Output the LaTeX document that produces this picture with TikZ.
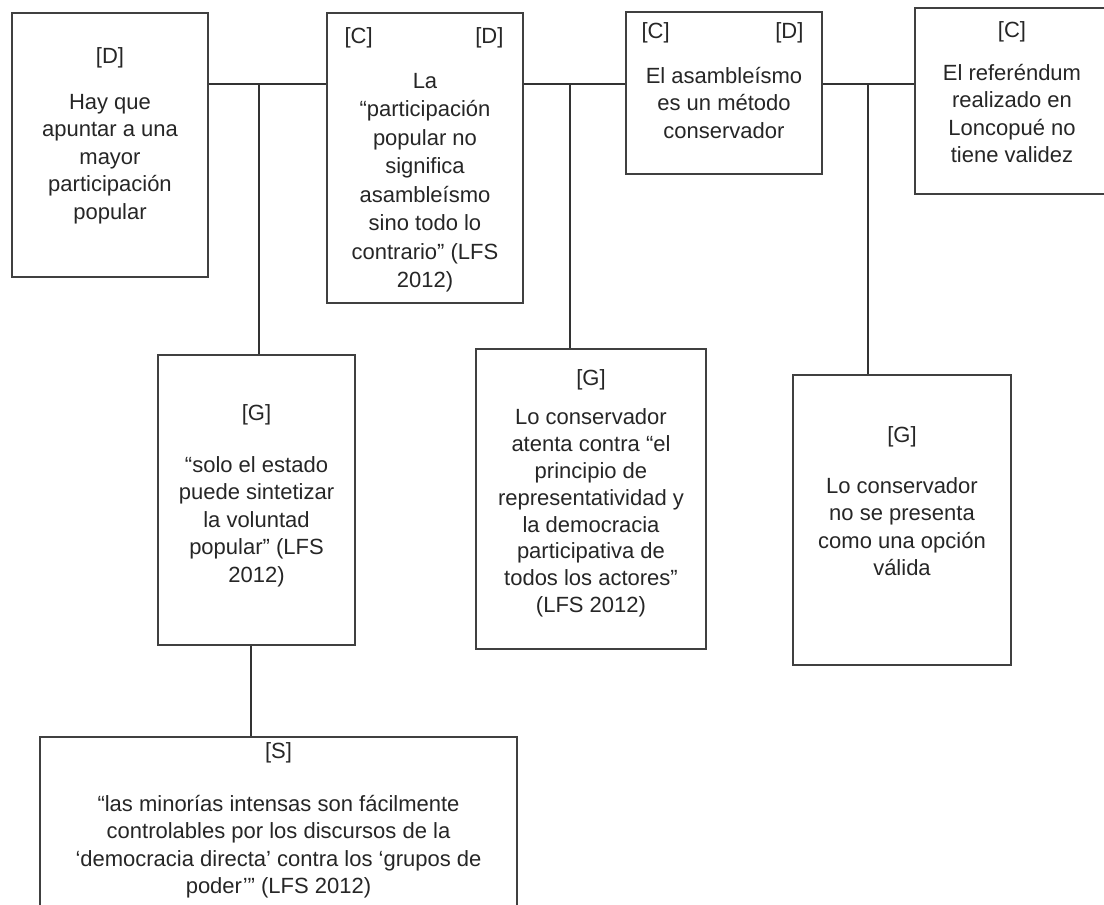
\documentclass[tikz,border=0pt]{standalone}
\usepackage{fontspec}
\setmainfont{Liberation Sans}
\usetikzlibrary{positioning}

\tikzset{
  box/.style={draw=black!75, line width=1.3pt, inner sep=0pt},
  tag/.style={inner sep=0pt, text height=16pt, text depth=5pt},
  body/.style={inner sep=0pt, align=center},
  link/.style={draw=black!80, line width=1.3pt},
}

\begin{document}
\begin{tikzpicture}[x=1pt, y=1pt, font=\fontsize{22}{27.5}\selectfont, text=black!85]
  \useasboundingbox (0,0) rectangle (1104,905);
  \clip (0,0) rectangle (1104,905);
  \fill[white] (0,0) rectangle (1104,905);

  % top row
  \node[box, minimum width=196pt, minimum height=264pt] (dhay) at (110,760) {};
  \node[box, minimum width=196pt, minimum height=290pt] (cpart) at (425,747) {};
  \node[box, minimum width=196pt, minimum height=162pt] (casam) at (724,812) {};
  \node[box, minimum width=194pt, minimum height=186pt] (cref) at (1012,804) {};

  % middle row
  \node[box, minimum width=197pt, minimum height=290pt] (gsolo) at (256.5,405) {};
  \node[box, minimum width=230pt, minimum height=300pt] (gcons) at (591,406) {};
  \node[box, minimum width=218pt, minimum height=290pt] (gval) at (902,385) {};

  % bottom
  \node[box, minimum width=477pt, minimum height=203pt] (smin) at (278.5,66.5) {};

  % labels
  \node[tag, below=34.5pt of dhay.north] (dhaytag) {[D]};
  \node[body, below=77.5pt of dhay.north] (dhaytxt)
    {\strut Hay que\\ apuntar a una\\ mayor\\ participación\\ popular};

  \node[tag, below right=14.5pt and 18pt of cpart.north west] (cpartc) {[C]};
  \node[tag, below left=14.5pt and 20pt of cpart.north east] (cpartd) {[D]};
  \node[body, font=\fontsize{22}{28.5}\selectfont, below=56pt of cpart.north] (cparttxt)
    {\strut La\\ “participación\\ popular no\\ significa\\ asambleísmo\\ sino todo lo\\ contrario” (LFS\\ 2012)};

  \node[tag, below right=10.5pt and 16pt of casam.north west] (casamc) {[C]};
  \node[tag, below left=10.5pt and 19pt of casam.north east] (casamd) {[D]};
  \node[body, below=52.5pt of casam.north] (casamtxt)
    {\strut El asambleísmo\\ es un método\\ conservador};

  \node[tag, below=13.5pt of cref.north] (creftag) {[C]};
  \node[body, below=53.5pt of cref.north] (creftxt)
    {\strut El referéndum\\ realizado en\\ Loncopué no\\ tiene validez};

  \node[tag, below=49.5pt of gsolo.north] (gsolotag) {[G]};
  \node[body, below=98.5pt of gsolo.north] (gsolotxt)
    {\strut “solo el estado\\ puede sintetizar\\ la voluntad\\ popular” (LFS\\ 2012)};

  \node[tag, below=20.5pt of gcons.north] (gconstag) {[G]};
  \node[body, font=\fontsize{22}{26.8}\selectfont, below=57.5pt of gcons.north] (gconstxt)
    {\strut Lo conservador\\ atenta contra “el\\ principio de\\ representatividad y\\ la democracia\\ participativa de\\ todos los actores”\\ (LFS 2012)};

  \node[tag, below=51.5pt of gval.north] (gvaltag) {[G]};
  \node[body, below=99.5pt of gval.north] (gvaltxt)
    {\strut Lo conservador\\ no se presenta\\ como una opción\\ válida};

  \node[tag, below=5.5pt of smin.north] (smintag) {[S]};
  \node[body, below=55.5pt of smin.north] (smintxt)
    {\strut “las minorías intensas son fácilmente\\ controlables por los discursos de la\\ ‘democracia directa’ contra los ‘grupos de\\ poder’” (LFS 2012)};

  % connectors
  \coordinate (j1) at (259,821);
  \coordinate (j2) at (570,821);
  \coordinate (j3) at (868,821);
  \coordinate (j4) at (251,700);

  \draw[link] (j1 -| dhay.east) -- (j1 -| cpart.west);
  \draw[link] (j1) -- (j1 |- gsolo.north);
  \draw[link] (j2 -| cpart.east) -- (j2 -| casam.west);
  \draw[link] (j2) -- (j2 |- gcons.north);
  \draw[link] (j3 -| casam.east) -- (j3 -| cref.west);
  \draw[link] (j3) -- (j3 |- gval.north);
  \draw[link] (j4 |- gsolo.south) -- (j4 |- smin.north);
\end{tikzpicture}
\end{document}
